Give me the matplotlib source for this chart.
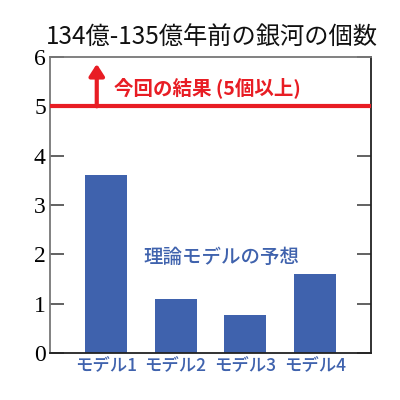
import numpy as np
import matplotlib.pyplot as plt

BLUE = "#3f62ad"
RED = "#e81d24"

models = ["モデル1", "モデル2", "モデル3", "モデル4"]
predicted = [3.6, 1.1, 0.77, 1.6]
observed_min = 5
yticks = [0, 1, 2, 3, 4, 5, 6]

plt.rcParams["font.family"] = ["Noto Sans CJK JP", "DejaVu Sans"]

fig = plt.figure(figsize=(4, 4), dpi=100)
ax = fig.add_axes([0.125, 0.1175, 0.8025, 0.74])

xs = np.arange(len(models))
ax.bar(xs, predicted, width=0.6, color=BLUE, zorder=2)
ax.axhline(observed_min, color=RED, lw=3, zorder=3)
ax.annotate("", xy=(-0.13, 5.86), xytext=(-0.13, observed_min),
            arrowprops=dict(arrowstyle="-|>,head_length=0.7,head_width=0.45",
                            color=RED, lw=3, shrinkA=0, shrinkB=0))
ax.text(0.12, 5.37, "今回の結果 (5個以上)", color=RED, fontsize=14,
        fontweight="bold", va="center", ha="left")
ax.text(1.66, 1.93, "理論モデルの予想", color=BLUE, fontsize=14,
        fontweight="medium", va="center", ha="center")

ax.set_xlim(-0.8, 3.8)
ax.set_ylim(0, 6)
ax.set_xticks(xs, models)
ax.set_yticks(yticks)
ax.tick_params(axis="x", length=0, colors=BLUE, labelsize=12.5, pad=3)
ax.tick_params(axis="y", direction="in", length=10, width=1.3, color="#555555",
               right=True, labelsize=17, pad=3)
for lab in ax.get_xticklabels():
    lab.set_fontweight("medium")
for lab in ax.get_yticklabels():
    lab.set_fontfamily(["Liberation Serif", "DejaVu Serif"])
for side in ["left", "top"]:
    ax.spines[side].set_color("#777777")
for side in ["right", "bottom"]:
    ax.spines[side].set_color("#222222")
for sp in ax.spines.values():
    sp.set_linewidth(1.3)

fig.text(0.53, 0.905, "134億-135億年前の銀河の個数", ha="center", va="center",
         fontsize=17.5, color="#111111")

fig.savefig("out.png", dpi=100)
